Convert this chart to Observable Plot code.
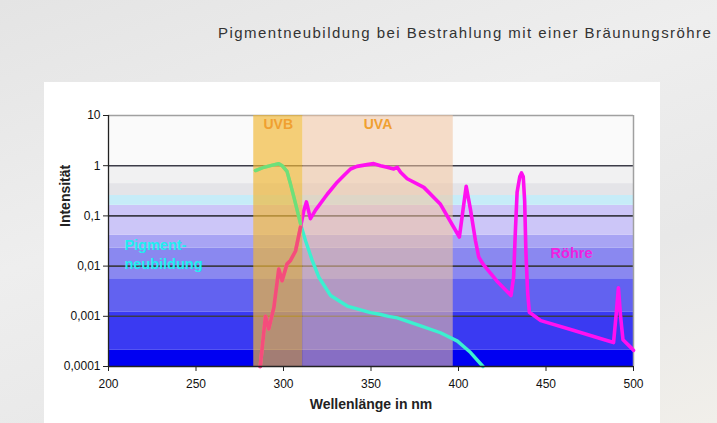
<!DOCTYPE html>
<html><head><meta charset="utf-8">
<script src="https://cdn.jsdelivr.net/npm/d3@7"></script>
<script src="https://cdn.jsdelivr.net/npm/@observablehq/plot@0.6"></script>
<style>
body{margin:0;}
#wrap{position:relative;width:717px;height:423px;overflow:hidden;background:linear-gradient(160deg,#e4e4e4,#eeeeee 40%,#e8e8e8 70%,#f1efea);font-family:"Liberation Sans",Arial,sans-serif;}
#panel{position:absolute;left:44px;top:82px;width:616px;height:341px;background:#fff;}
#title{position:absolute;left:218px;top:24px;font-size:15px;letter-spacing:1.45px;color:#333;white-space:nowrap;}
#chart{position:absolute;left:0;top:82px;}
</style></head><body>
<div id="wrap"><div id="panel"></div><div id="title"></div><div id="chart"></div></div>
<script>
const titleText = "Pigmentneubildung bei Bestrahlung mit einer Bräunungsröhre";
const xLabel = "Wellenlänge in nm";
const yLabel = "Intensität";
const xTicks = [200, 250, 300, 350, 400, 450, 500];
const yTicks = [0.0001, 0.001, 0.01, 0.1, 1, 10];
const yTickLabels = ["0,0001", "0,001", "0,01", "0,1", "1", "10"];

// horizontal background bands (intensity limits)
const bandLow  = [0.0001, 0.00021, 0.0012, 0.0056, 0.023, 0.041, 0.162, 0.255, 0.44, 1];
const bandHigh = [0.00021, 0.0012, 0.0056, 0.023, 0.041, 0.162, 0.255, 0.44, 1, 10];
const bandColors = ["#0000f2", "#3a3af2", "#6262f0", "#8a88f0", "#a8a4f4", "#ccc6f8", "#c6ecf8", "#e4e4e8", "#f1f1f2", "#fafafa"];

// UV regions
const regionNames = ["UVB", "UVA"];
const regionStart = [283, 311];
const regionEnd = [311, 397];

// Pigmentneubildung curve
const pigWl  = [284, 288.8, 292.6, 297.3, 299.2, 302, 304, 305.9, 307.8, 309.7, 312.6, 316.4, 320.2, 326.9, 336.4, 349.7, 355, 360, 365, 378, 389.7, 399.4, 406.9, 414];
const pigVal = [0.8, 0.93, 1.0, 1.1, 1.0, 0.77, 0.43, 0.24, 0.13, 0.07, 0.032, 0.013, 0.006, 0.0026, 0.0016, 0.00118, 0.0011, 0.001, 0.00093, 0.00065, 0.00047, 0.00032, 0.00019, 0.0001];

// Röhre (tube) spectrum
const tubeWl  = [286.7, 289.7, 291.6, 294.5, 297.3, 299.2, 302, 304, 306.9, 309.7, 311.6, 313.1, 315.4, 318.3, 325, 330.7, 334.5, 338.3, 342, 347.8, 351.6, 355.4, 359.2, 363, 365, 366.9, 370.7, 380.2, 389.7, 400.5, 404.4, 406.9, 409.7, 411.6, 414, 422, 430, 431.5, 432.5, 433.5, 435, 436, 437, 437.8, 438.5, 439.5, 440.5, 447, 466, 481, 488.6, 490.2, 491.4, 492.6, 494, 499, 500];
const tubeVal = [0.0001, 0.001, 0.00056, 0.0015, 0.0087, 0.0051, 0.011, 0.013, 0.02, 0.059, 0.127, 0.19, 0.088, 0.13, 0.27, 0.47, 0.64, 0.86, 0.97, 1.05, 1.1, 1.0, 0.93, 0.86, 0.93, 0.74, 0.55, 0.37, 0.17, 0.038, 0.39, 0.13, 0.032, 0.015, 0.011, 0.005, 0.0026, 0.006, 0.05, 0.3, 0.6, 0.72, 0.6, 0.2, 0.02, 0.003, 0.0012, 0.00082, 0.00052, 0.00036, 0.0003, 0.0012, 0.0037, 0.001, 0.00034, 0.00023, 0.00021];

const curveNames = ["Pigment-\nneubildung", "Röhre"];

document.getElementById("title").textContent = titleText;

const pig = pigWl.map((w, i) => ({w, v: pigVal[i]}));
const tube = tubeWl.map((w, i) => ({w, v: tubeVal[i]}));
const regions = regionNames.map((n, i) => ({n, a: regionStart[i], b: regionEnd[i]}));
const [xmin, xmax] = [xTicks[0], xTicks[xTicks.length - 1]];
const [ymin, ymax] = [yTicks[0], yTicks[yTicks.length - 1]];
const bands = bandLow.map((lo, i) => ({lo, hi: bandHigh[i], c: bandColors[i]}));
const inUVB = d => d.w >= regionStart[0] && d.w <= regionEnd[0];

const chart = Plot.plot({
  width: 717,
  height: 341,
  marginLeft: 108,
  marginRight: 84,
  marginTop: 33,
  marginBottom: 57,
  style: {background: "transparent", fontFamily: "'Liberation Sans', Arial, sans-serif", fontSize: "12px", color: "#111"},
  x: {domain: [xmin, xmax]},
  y: {type: "log", domain: [ymin, ymax]},
  marks: [
    ...bands.map(b => Plot.rect([b], {x1: () => xmin, x2: () => xmax, y1: "lo", y2: "hi", fill: b.c})),
    Plot.ruleY(yTicks.slice(1, -1), {stroke: "#3c3c48", strokeWidth: 1.6}),
    Plot.ruleY([ymax], {stroke: "#a0a0a0", strokeWidth: 1.5}),
    Plot.ruleX([xmax], {stroke: "#a0a0a0", strokeWidth: 1.5}),
    Plot.rect(regions.slice(1), {x1: "a", x2: "b", y1: () => ymin, y2: () => ymax, fill: "#f0c4a0", fillOpacity: 0.56}),
    Plot.line(pig, {x: "w", y: "v", stroke: "#3cf0d0", strokeWidth: 3.4}),
    Plot.line(tube, {x: "w", y: "v", stroke: "#ff10f0", strokeWidth: 3.6}),
    Plot.rect(regions.slice(0, 1), {x1: "a", x2: "b", y1: () => ymin, y2: () => ymax, fill: "#f0b838", fillOpacity: 0.68}),
    Plot.line(pig.filter(inUVB), {x: "w", y: "v", stroke: "#6ee07a", strokeWidth: 3.4}),
    Plot.line(tube.filter(inUVB), {x: "w", y: "v", stroke: "#f44d7c", strokeWidth: 3.6}),
    Plot.text(regions, {x: d => (d.a + d.b) / 2, y: () => ymax, dy: 9, text: "n", fill: "#f0a030", fontWeight: "bold", fontSize: 14}),
    Plot.text([curveNames[0]], {x: () => 209.1, y: () => 0.018, text: d => d, textAnchor: "start", lineHeight: 1.35, fill: "#22eef0", fontWeight: "bold", fontSize: 14.5}),
    Plot.text([curveNames[1]], {x: () => 464.6, y: () => 0.0178, text: d => d, fill: "#f020e0", fontWeight: "bold", fontSize: 14.5}),
    Plot.ruleX([xmin], {stroke: "#222", strokeWidth: 1.3}),
    Plot.ruleY([ymin], {stroke: "#222", strokeWidth: 1.3}),
    Plot.axisX({ticks: xTicks, tickSize: 5, tickPadding: 8, label: null, stroke: "#222"}),
    Plot.axisY({ticks: yTicks, tickFormat: d => yTickLabels[yTicks.indexOf(d)], tickSize: 5, tickPadding: 3, label: null, stroke: "#222"}),
    Plot.text([xLabel], {frameAnchor: "bottom", dy: 42, text: d => d, fontWeight: "bold", fontSize: 14, fill: "#222"}),
    Plot.text([yLabel], {frameAnchor: "left", dx: -43, dy: -14, rotate: -90, text: d => d, fontWeight: "bold", fontSize: 14, fill: "#222"})
  ]
});
document.getElementById("chart").appendChild(chart);
</script>
</body></html>
